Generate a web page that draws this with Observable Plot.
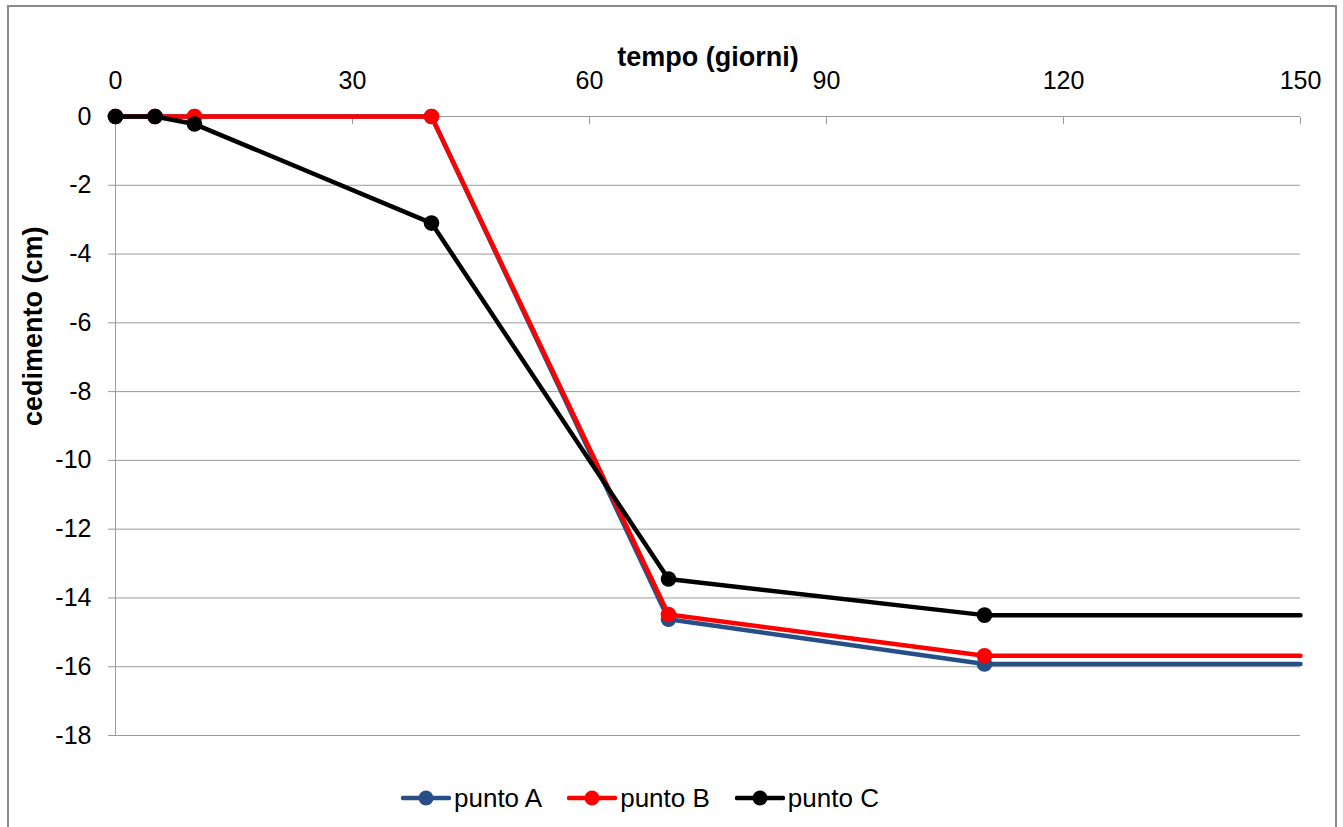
<!DOCTYPE html>
<html>
<head>
<meta charset="utf-8">
<script src="https://cdn.jsdelivr.net/npm/d3@7"></script>
<script src="https://cdn.jsdelivr.net/npm/@observablehq/plot@0.6"></script>
<style>
  html, body { margin: 0; padding: 0; background: #fff; }
  body { width: 1343px; height: 827px; overflow: hidden; position: relative; font-family: "Liberation Sans", Arial, sans-serif; }
  #frame { position: absolute; left: 7px; top: 5px; width: 1330px; height: 840px; border: 2px solid #8a8a8a; box-sizing: border-box; pointer-events: none; }
  #chart { position: absolute; left: 0; top: 0; }
  #legend { position: absolute; left: 401px; top: 770px; height: 56px; display: flex; justify-content: flex-start; align-items: center; font-size: 26px; color: #000; white-space: nowrap; }
  .item { display: flex; align-items: center; margin: 0 25px 0 0; }
  .item svg { margin-right: 3px; }
</style>
</head>
<body>
<div id="chart"></div>
<div id="legend"></div>
<div id="frame"></div>
<script>
// Data
const tempo = [0, 5, 10, 40, 70, 110, 150];
const puntoA = [0, 0, 0, 0, -14.62, -15.92, -15.92];
const puntoB = [0, 0, 0, 0, -14.48, -15.68, -15.68];
const puntoC = [0, 0, -0.22, -3.1, -13.45, -14.5, -14.5];
const seriesNames = ["punto A", "punto B", "punto C"];
const seriesColors = ["#264f87", "#ff0000", "#000000"];
const xTicks = [0, 30, 60, 90, 120, 150];
const yTicks = [0, -2, -4, -6, -8, -10, -12, -14, -16, -18];

const seriesValues = [puntoA, puntoB, puntoC];
const rows = [];
seriesValues.forEach((vals, s) => {
  vals.forEach((v, i) => rows.push({serie: seriesNames[s], t: tempo[i], v, marker: tempo[i] < 150}));
});

const fmt = d => String(d);
const marks = [
  Plot.gridY(yTicks, {stroke: "#9a9a9a", strokeOpacity: 1, strokeWidth: 1}),
  Plot.ruleX([0], {stroke: "#9a9a9a", strokeWidth: 1}),
  Plot.axisY(yTicks, {anchor: "left", tickSize: 7, tickPadding: 17, stroke: "#9a9a9a", fontSize: 25, fill: "#000", label: null, tickFormat: fmt}),
  Plot.axisX(xTicks, {anchor: "top", tickSize: -7, text: null, stroke: "#9a9a9a", label: null}),
  Plot.axisX(xTicks, {anchor: "top", tickSize: 0, tickPadding: 28, fontSize: 25, fill: "#000", label: null, tickFormat: fmt}),
  Plot.text(["tempo (giorni)"], {frameAnchor: "top", dy: -70, fontSize: 27, fontWeight: "bold", fill: "#000"}),
  Plot.text(["cedimento (cm)"], {frameAnchor: "left", dx: -82, rotate: -90, fontSize: 27, fontWeight: "bold", fill: "#000"})
];
seriesNames.forEach((name, s) => {
  const d = rows.filter(r => r.serie === name);
  marks.push(Plot.line(d, {x: "t", y: "v", stroke: seriesColors[s], strokeWidth: 4.5}));
  marks.push(Plot.dot(d.filter(r => r.marker), {x: "t", y: "v", r: 7.8, fill: seriesColors[s], stroke: "none"}));
});

const chart = Plot.plot({
  width: 1343,
  height: 770,
  marginLeft: 115,
  marginRight: 43,
  marginTop: 116,
  marginBottom: 35,
  style: {fontFamily: "'Liberation Sans', Arial, sans-serif", background: "transparent", overflow: "visible"},
  x: {domain: [0, 150], axis: null},
  y: {domain: [-18, 0], axis: null},
  marks
});
document.getElementById("chart").appendChild(chart);

const legend = document.getElementById("legend");
seriesNames.forEach((name, s) => {
  const item = document.createElement("div");
  item.className = "item";
  item.innerHTML = `<svg width="50" height="20"><line x1="2" y1="10" x2="48" y2="10" stroke="${seriesColors[s]}" stroke-width="4.5" stroke-linecap="round"/><circle cx="25" cy="10" r="7.5" fill="${seriesColors[s]}"/></svg><span>${name}</span>`;
  legend.appendChild(item);
});
</script>
</body>
</html>
